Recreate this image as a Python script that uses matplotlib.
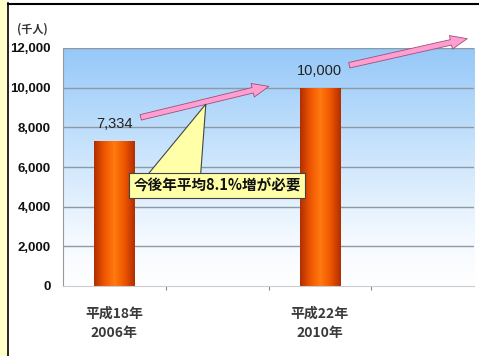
import numpy as np
import matplotlib
matplotlib.use("Agg")
import matplotlib.pyplot as plt
from matplotlib.colors import LinearSegmentedColormap
from matplotlib.patches import Rectangle, Polygon

plt.rcParams['font.family'] = ['Noto Sans CJK JP', 'DejaVu Sans']

# data
slots = [0, 1, 2, 3]
bar_slots = [0, 2]
values = [7334, 10000]
value_labels = ["7,334", "10,000"]
category_labels = ["平成18年\n2006年", "平成22年\n2010年"]
yticks = [0, 2000, 4000, 6000, 8000, 10000, 12000]
ytick_labels = ["0", "2,000", "4,000", "6,000", "8,000", "10,000", "12,000"]
unit_label = "(千人)"
callout_text = "今後年平均8.1%増が必要"

NUM_FONT = ["Liberation Sans", "DejaVu Sans"]

W, H = 479, 356
fig = plt.figure(figsize=(W / 100, H / 100), dpi=100)
fig.patch.set_facecolor("white")

# page frame: pale yellow margin strip with black rules
fig.patches.append(Rectangle((0, 0), 7 / W, 1, transform=fig.transFigure,
                             facecolor="#FFFFC8", edgecolor="none", zorder=0))
fig.add_artist(plt.Line2D([7.5 / W, 7.5 / W], [0, 1 - 3 / H], color="black", lw=1.2))
fig.add_artist(plt.Line2D([7.5 / W, 1], [1 - 3.5 / H, 1 - 3.5 / H], color="black", lw=1.5))

L, R, T, B = 63, 474, 48, 286
ax = fig.add_axes([L / W, 1 - B / H, (R - L) / W, (B - T) / H])
ax.set_xlim(-0.5, 3.5)
ax.set_ylim(0, 12000)

# vertical blue-to-white gradient behind the plot
bg = LinearSegmentedColormap.from_list("bg", [(0, "#FFFFFF"), (0.2, "#F4F9FF"),
                                              (0.6, "#C6E2FC"), (1, "#96C8F8")])
grad = np.linspace(0, 1, 256).reshape(-1, 1)
ax.imshow(grad, cmap=bg, aspect="auto", extent=(-0.5, 3.5, 0, 12000),
          origin="lower", zorder=0)

for y in yticks[1:]:
    ax.axhline(y, color="#8C9AA6", lw=1.0, zorder=1)

# bars with a horizontal orange shading
bar_cmap = LinearSegmentedColormap.from_list(
    "bar", ["#B02E00", "#EE5500", "#FF7A10", "#EE5500", "#B02E00"])
bw = 0.39
hgrad = np.linspace(0, 1, 256).reshape(1, -1)
for s, v in zip(bar_slots, values):
    rect = Rectangle((s - bw / 2, 0), bw, v, facecolor="none", edgecolor="none")
    ax.add_patch(rect)
    im = ax.imshow(hgrad, cmap=bar_cmap, aspect="auto",
                   extent=(s - bw / 2, s + bw / 2, 0, v), zorder=2)
    im.set_clip_path(rect)

for s, v, lab in zip(bar_slots, values, value_labels):
    ax.text(s, v + 500, lab, ha="center", va="bottom", fontsize=10.5,
            color="#222222", family=NUM_FONT, zorder=4)

ax.set_xlim(-0.5, 3.5)
ax.set_ylim(0, 12000)
ax.set_yticks(yticks)
ax.set_yticklabels(ytick_labels, family=NUM_FONT, fontsize=9.5,
                   fontweight="bold", color="#111111")
ax.set_xticks([0.5, 1.5, 2.5])
ax.set_xticklabels([])
ax.tick_params(axis="x", length=3, color="#888888", direction="out")
ax.tick_params(axis="y", length=0, pad=9)
for sp in ["top", "right"]:
    ax.spines[sp].set_visible(False)
ax.spines["left"].set_color("#999999")
ax.spines["bottom"].set_color("#CCCCCC")

for s, lab in zip(bar_slots, category_labels):
    ax.text(s, -1050, lab, ha="center", va="top", fontsize=10, fontweight="bold",
            color="#3A3A3A", linespacing=1.45)

fig.text(17 / W, 1 - 29 / H, unit_label, fontsize=8, fontweight="bold",
         color="#333333", va="center", ha="left")

# growth arrows
arrow_kw = dict(arrowstyle="simple,head_length=1.2,head_width=1.0,tail_width=0.4",
                facecolor="#FF9ED2", edgecolor="#A05070", lw=0.6)
ax.annotate("", xy=(1.53, 10100), xytext=(0.23, 8470),
            arrowprops=arrow_kw, annotation_clip=False, zorder=5)
ax.annotate("", xy=(3.46, 12500), xytext=(2.26, 11100),
            arrowprops=arrow_kw, annotation_clip=False, zorder=5)

# callout pointing at the first arrow
pointer = Polygon([(0.33, 5650), (0.84, 5650), (0.89, 9170)], closed=True,
                  facecolor="#FFFFA8", edgecolor="#444444", lw=0.8, zorder=6)
ax.add_patch(pointer)
ax.text(1.0, 5070, callout_text, ha="center", va="center", fontsize=10.5,
        fontweight="bold", color="#111111", zorder=7,
        bbox=dict(boxstyle="square,pad=0.3", facecolor="#FFFFA8",
                  edgecolor="#444444", lw=0.8))

fig.savefig("out.png", dpi=100)
